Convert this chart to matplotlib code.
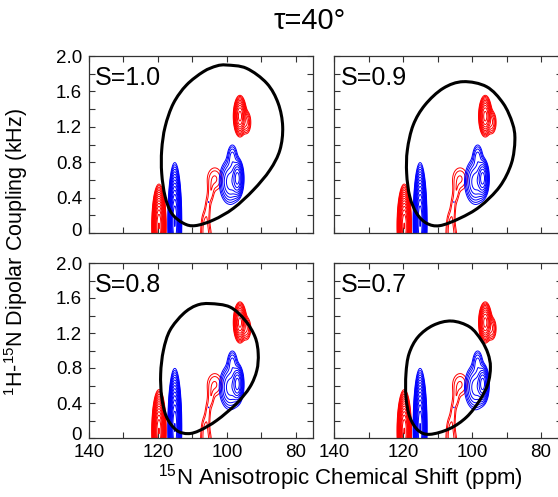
"""
PISA wheels (tau = 40 deg) over 1H-15N separated-local-field spectra
for four order parameters S.
"""

import numpy as np
import matplotlib
matplotlib.use('Agg')
import matplotlib.pyplot as plt
import matplotlib.transforms as mtransforms
from matplotlib.path import Path
from matplotlib.patches import PathPatch

plt.rcParams['font.family'] = ['Liberation Sans', 'DejaVu Sans']
plt.rcParams['mathtext.default'] = 'regular'

# --- Data ---
order_params = ['1.0', '0.9', '0.8', '0.7']

# red spectrum peaks: centre (ppm, kHz), widths, amplitude
red_x0  = [119.7, 96.2, 94.3, 103.5, 104.6, 105.5, 106.3, 106.0]
red_y0  = [0.08, 1.32, 1.25, 0.61, 0.45, 0.30, 0.12, -0.05]
red_sx  = [0.62, 0.70, 0.70, 1.6, 0.6, 0.6, 0.8, 1.1]
red_sy  = [0.14, 0.085, 0.07, 0.095, 0.08, 0.10, 0.10, 0.10]
red_amp = [300, 47, 5, 2.4, 1.5, 1.6, 2.0, 2.5]

# blue spectrum peaks
blue_x0  = [115.1, 96.9, 99.0, 98.4, 105.3]
blue_y0  = [0.12, 0.62, 0.58, 0.86, 0.35]
blue_sx  = [0.6, 0.7, 1.5, 0.8, 0.15]
blue_sy  = [0.20, 0.085, 0.12, 0.08, 0.012]
blue_amp = [300, 30, 10, 4, 1.1]

# PISA wheel outlines, points traced around each loop (ppm, kHz)
wheel_x = [
    [100.1, 94.3, 88.4, 85.1, 83.8, 84.6, 87.5, 92.3, 98.1, 103.9, 109.2,
     112.6, 116.0, 117.9, 118.9, 118.9, 117.9, 115.5, 111.7, 106.8, 103.0],
    [102.6, 95.8, 91.0, 88.3, 87.6, 88.6, 92.0, 97.8, 103.6, 109.4, 113.2,
     116.1, 118.1, 119.0, 118.8, 117.1, 113.7, 108.4],
    [104.9, 99.1, 94.7, 91.8, 90.9, 91.3, 93.3, 97.2, 102.9, 107.8, 111.2,
     114.6, 117.5, 118.9, 119.2, 118.4, 116.5, 112.6, 108.8],
    [106.0, 100.7, 97.3, 95.4, 94.7, 95.4, 97.8, 101.6, 106.5, 112.3,
     115.7, 118.1, 119.2, 119.2, 118.3, 115.7, 111.3],
]
wheel_y = [
    [1.898, 1.861, 1.691, 1.465, 1.202, 0.938, 0.712, 0.486, 0.279, 0.147,
     0.083, 0.110, 0.222, 0.411, 0.674, 0.938, 1.202, 1.465, 1.672, 1.823, 1.887],
    [1.710, 1.653, 1.465, 1.239, 1.051, 0.787, 0.524, 0.298, 0.166, 0.083,
     0.110, 0.222, 0.411, 0.674, 0.938, 1.220, 1.446, 1.635],
    [1.536, 1.497, 1.345, 1.154, 0.964, 0.773, 0.583, 0.393, 0.202, 0.088,
     0.050, 0.088, 0.240, 0.469, 0.735, 1.002, 1.231, 1.421, 1.516],
    [1.337, 1.269, 1.116, 0.964, 0.812, 0.621, 0.431, 0.240, 0.107, 0.042,
     0.088, 0.240, 0.469, 0.735, 0.964, 1.155, 1.288],
]

x_major = [140, 120, 100, 80]
y_major = [0, 0.4, 0.8, 1.2, 1.6, 2.0]
y_major_labels = ['0', '0.4', '0.8', '1.2', '1.6', '2.0']


def spectrum(grid_x, grid_y, x0, y0, sx, sy, amp):
    """Sum of 2D Gaussian peaks on the grid."""
    field = np.zeros_like(grid_x)
    for cx, cy, wx, wy, a in zip(x0, y0, sx, sy, amp):
        field += a * np.exp(-0.5 * (((grid_x - cx) / wx) ** 2 + ((grid_y - cy) / wy) ** 2))
    return field


def smooth_loop(xs, ys):
    """Closed Catmull-Rom curve through the traced points, as a Bezier path."""
    pts = np.column_stack([xs, ys])
    n = len(pts)
    verts = [pts[0]]
    codes = [Path.MOVETO]
    for i in range(n):
        p0, p1, p2, p3 = pts[i - 1], pts[i], pts[(i + 1) % n], pts[(i + 2) % n]
        verts += [p1 + (p2 - p0) / 6, p2 - (p3 - p1) / 6, p2]
        codes += [Path.CURVE4] * 3
    return Path(verts, codes)


gx, gy = np.meshgrid(np.linspace(73, 141, 700), np.linspace(-0.3, 2.05, 520))
red_field = spectrum(gx, gy, red_x0, red_y0, red_sx, red_sy, red_amp)
blue_field = spectrum(gx, gy, blue_x0, blue_y0, blue_sx, blue_sy, blue_amp)
levels = 1.0 * 1.5 ** np.arange(15)

fig = plt.figure(figsize=(5.58, 4.97), dpi=100)
W, H = 558.0, 497.0
px_per_ppm = 224 / 65.0
lefts = [89, 334.3]
widths = [224, 228]          # right column runs off the canvas edge
tops = [56, 263]
bottoms = [233, 438]

for idx, s_label in enumerate(order_params):
    row, col = divmod(idx, 2)
    ax = fig.add_axes([lefts[col] / W, 1 - bottoms[row] / H,
                       widths[col] / W, (bottoms[row] - tops[row]) / H])
    ax.contour(gx, gy, red_field, levels=levels, colors='#ff0000', linewidths=0.7)
    ax.contour(gx, gy, blue_field, levels=levels, colors='#0000ff', linewidths=0.7)
    ax.add_patch(PathPatch(smooth_loop(wheel_x[idx], wheel_y[idx]),
                           fill=False, edgecolor='black', linewidth=2.2, zorder=5))

    ax.set_xlim(140, 140 - widths[col] / px_per_ppm)
    ax.set_ylim(0, 2.0)
    ax.set_xticks(np.arange(140, 74, -10))
    ax.set_yticks(np.arange(0, 2.01, 0.2))
    ax.tick_params(direction='in', top=True, right=True, length=4, width=0.8,
                   labelsize=13.5, color='#333333')
    ax.tick_params(axis='x', pad=4.5)
    ax.tick_params(axis='y', pad=5)
    if row == 1:
        ax.set_xticklabels([str(int(t)) if int(t) in x_major else ''
                            for t in ax.get_xticks()])
    else:
        ax.set_xticklabels([])
    if col == 0:
        ax.set_yticklabels([y_major_labels[y_major.index(round(t, 1))]
                            if round(t, 1) in y_major else ''
                            for t in ax.get_yticks()])
        # lift the "0" a little so it clears the x tick labels below
        zero_lbl = ax.yaxis.get_major_ticks()[0].label1
        zero_lbl.set_transform(zero_lbl.get_transform() +
                               mtransforms.ScaledTranslation(0, 0.04, fig.dpi_scale_trans))
    else:
        ax.set_yticklabels([])
    for spine in ax.spines.values():
        spine.set_linewidth(0.9)
        spine.set_color('#333333')

    ax.text(0.027 * 224 / widths[col], 0.945, f'S={s_label}', transform=ax.transAxes,
            ha='left', va='top', fontsize=18)

fig.text(310 / W, 1 - 21 / H, 'τ=40°', ha='center', va='center', fontsize=21)
fig.text(340 / W, 1 - 478 / H, '$^{15}$N Anisotropic Chemical Shift (ppm)',
         ha='center', va='center', fontsize=16)
fig.text(16 / W, 1 - 252 / H, '$^{1}$H-$^{15}$N Dipolar Coupling (kHz)',
         ha='center', va='center', rotation=90, fontsize=15.5)

fig.savefig('out.png', dpi=100)
